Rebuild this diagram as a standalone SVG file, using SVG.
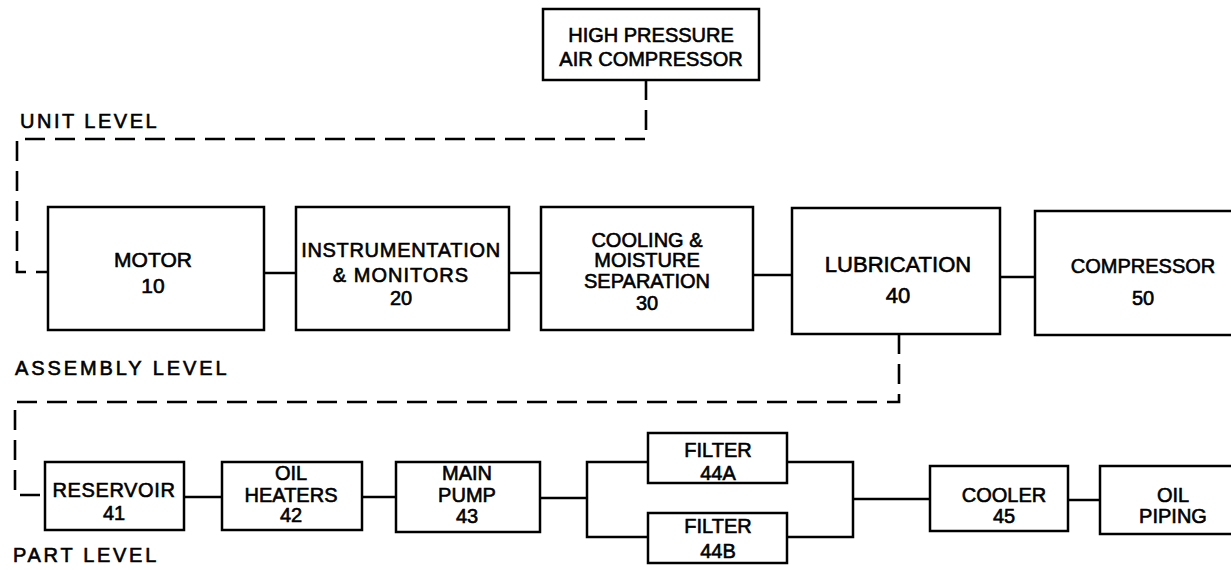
<svg xmlns="http://www.w3.org/2000/svg" width="1231" height="570" viewBox="0 0 1231 570">
<style>
.box{fill:#fff;stroke:#000;stroke-width:2.5}
.ln{fill:none;stroke:#000;stroke-width:2.5}
.dash{fill:none;stroke:#000;stroke-width:2.6;stroke-dasharray:20 10}
text{font-family:"Liberation Sans",Arial,sans-serif;fill:#000;stroke:#000;stroke-width:0.6;text-anchor:middle;font-size:20px}
.lvl{text-anchor:start;letter-spacing:2.5px}
</style>
<rect width="1231" height="570" fill="#fff"/>
<g id="connectors">
<path class="dash" d="M646,80 V139 H17 V272 H48"/>
<path class="dash" d="M899,334 V402 H15 V495 H45"/>
<path class="ln" d="M264,273 H296"/>
<path class="ln" d="M509,273 H541"/>
<path class="ln" d="M753,275 H792"/>
<path class="ln" d="M1000,277 H1035"/>
<path class="ln" d="M184,497 H222"/>
<path class="ln" d="M362,497 H396"/>
<path class="ln" d="M540,498 H587"/>
<path class="ln" d="M648,462 H587 V537 H648"/>
<path class="ln" d="M787,462 H853 V537 H787"/>
<path class="ln" d="M853,499 H930"/>
<path class="ln" d="M1068,500 H1100"/>
</g>
<g id="labels">
<text class="lvl" x="20" y="128">UNIT LEVEL</text>
<text class="lvl" x="15" y="375" style="letter-spacing:2.9px">ASSEMBLY LEVEL</text>
<text class="lvl" x="13" y="562" style="letter-spacing:2.7px">PART LEVEL</text>
</g>
<g id="hpac">
<rect class="box" x="543" y="9" width="216" height="71"/>
<text x="651" y="42">HIGH PRESSURE</text>
<text x="651" y="66">AIR COMPRESSOR</text>
</g>
<g id="motor">
<rect class="box" x="48" y="207" width="216" height="123"/>
<text x="153" y="267" style="font-size:21px">MOTOR</text>
<text x="153" y="293" style="font-size:21px">10</text>
</g>
<g id="instr">
<rect class="box" x="296" y="207" width="213" height="123"/>
<text x="401" y="257" style="letter-spacing:0.7px">INSTRUMENTATION</text>
<text x="401" y="282" style="letter-spacing:1px">&amp; MONITORS</text>
<text x="401" y="305">20</text>
</g>
<g id="cooling">
<rect class="box" x="541" y="207" width="212" height="123"/>
<text x="647" y="247">COOLING &amp;</text>
<text x="647" y="267">MOISTURE</text>
<text x="647" y="288">SEPARATION</text>
<text x="647" y="310">30</text>
</g>
<g id="lub">
<rect class="box" x="792" y="208" width="208" height="126"/>
<text x="898" y="272" style="font-size:22px">LUBRICATION</text>
<text x="898" y="303" style="font-size:22px">40</text>
</g>
<g id="comp">
<rect class="box" x="1035" y="211" width="210" height="124"/>
<text x="1143" y="273">COMPRESSOR</text>
<text x="1143" y="305">50</text>
</g>
<g id="res">
<rect class="box" x="45" y="462" width="139" height="68"/>
<text x="114" y="497" style="letter-spacing:0.6px">RESERVOIR</text>
<text x="114" y="520">41</text>
</g>
<g id="heat">
<rect class="box" x="222" y="462" width="140" height="68"/>
<text x="291" y="480">OIL</text>
<text x="291" y="502">HEATERS</text>
<text x="291" y="522">42</text>
</g>
<g id="pump">
<rect class="box" x="396" y="462" width="144" height="70"/>
<text x="467" y="480">MAIN</text>
<text x="467" y="502">PUMP</text>
<text x="467" y="523">43</text>
</g>
<g id="filterA">
<rect class="box" x="648" y="433" width="139" height="50"/>
<text x="718" y="457">FILTER</text>
<text x="718" y="480">44A</text>
</g>
<g id="filterB">
<rect class="box" x="648" y="513" width="139" height="50"/>
<text x="718" y="533">FILTER</text>
<text x="718" y="558">44B</text>
</g>
<g id="cooler">
<rect class="box" x="930" y="466" width="138" height="65"/>
<text x="1004" y="502">COOLER</text>
<text x="1004" y="523">45</text>
</g>
<g id="piping">
<rect class="box" x="1100" y="466" width="145" height="68"/>
<text x="1173" y="502">OIL</text>
<text x="1173" y="523">PIPING</text>
</g>
</svg>
